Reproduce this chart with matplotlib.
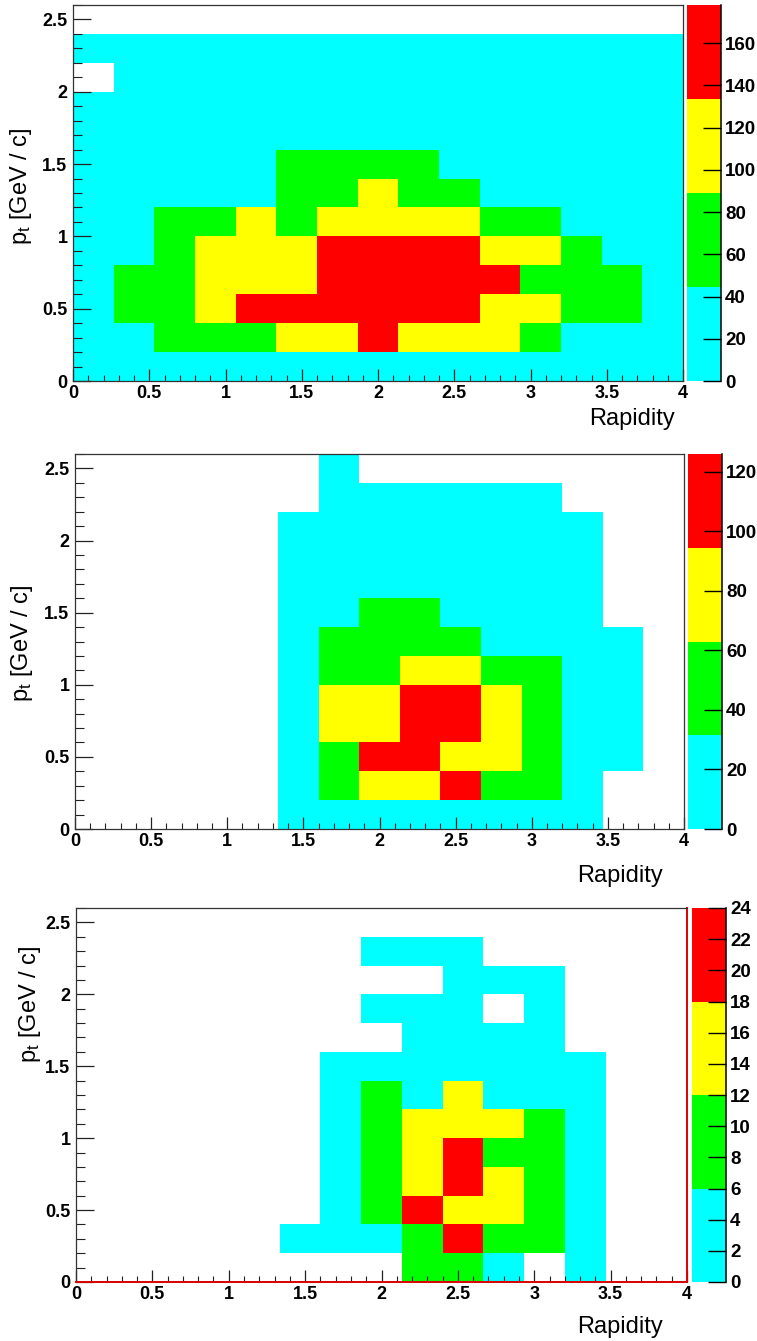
import numpy as np
import matplotlib
matplotlib.use("Agg")
import matplotlib.pyplot as plt
from matplotlib.colors import ListedColormap, BoundaryNorm

plt.rcParams['font.family'] = ['Liberation Sans', 'DejaVu Sans']
plt.rcParams['mathtext.fontset'] = 'custom'
plt.rcParams['mathtext.rm'] = 'Liberation Sans'
plt.rcParams['mathtext.it'] = 'Liberation Sans:italic'

# ---------------- data ----------------
rapidity_range = (0.0, 4.0)
n_rapidity_bins = 15
pt_range = (0.0, 2.6)
n_pt_bins = 13

palette = ['#00ffff', '#00ff00', '#ffff00', '#ff0000']  # 4 contour levels

x_ticks = [0, 0.5, 1, 1.5, 2, 2.5, 3, 3.5, 4]
y_ticks = [0, 0.5, 1, 1.5, 2, 2.5]

# counts per bin, rows listed from top (pt 2.4-2.6) to bottom (pt 0-0.2)
counts_top = [
    [0, 0, 0, 0, 0, 0, 0, 0, 0, 0, 0, 0, 0, 0, 0],
    [6, 8, 9, 11, 12, 14, 15, 16, 15, 13, 12, 10, 8, 7, 5],
    [0, 9, 11, 13, 15, 17, 19, 20, 19, 17, 15, 13, 10, 8, 6],
    [8, 11, 14, 17, 20, 23, 26, 27, 26, 23, 20, 16, 13, 10, 7],
    [10, 14, 18, 22, 27, 32, 36, 38, 36, 32, 27, 21, 16, 12, 9],
    [12, 17, 23, 29, 37, 46, 52, 55, 50, 43, 35, 27, 20, 15, 11],
    [14, 21, 29, 38, 43, 57, 74, 92, 84, 68, 42, 33, 25, 18, 13],
    [17, 26, 50, 62, 90, 80, 104, 118, 115, 97, 76, 58, 40, 23, 15],
    [19, 32, 60, 94, 108, 122, 142, 158, 152, 138, 112, 96, 64, 30, 17],
    [21, 48, 70, 101, 118, 130, 150, 170, 178, 160, 136, 85, 72, 50, 20],
    [20, 46, 68, 96, 136, 146, 162, 172, 168, 148, 128, 102, 70, 48, 19],
    [16, 30, 55, 72, 82, 95, 118, 140, 124, 110, 92, 68, 40, 27, 14],
    [9, 14, 20, 26, 31, 36, 40, 42, 40, 36, 31, 25, 19, 14, 9],
]

counts_mid = [
    [0, 0, 0, 0, 0, 0, 3, 0, 0, 0, 0, 0, 0, 0, 0],
    [0, 0, 0, 0, 0, 0, 4, 5, 6, 5, 4, 3, 0, 0, 0],
    [0, 0, 0, 0, 0, 4, 7, 9, 10, 9, 8, 6, 3, 0, 0],
    [0, 0, 0, 0, 0, 6, 10, 14, 16, 15, 12, 9, 5, 0, 0],
    [0, 0, 0, 0, 0, 8, 14, 22, 26, 24, 18, 12, 6, 0, 0],
    [0, 0, 0, 0, 0, 11, 24, 38, 36, 30, 22, 14, 8, 0, 0],
    [0, 0, 0, 0, 0, 14, 35, 48, 52, 40, 29, 20, 12, 6, 0],
    [0, 0, 0, 0, 0, 17, 45, 58, 70, 75, 55, 40, 24, 9, 0],
    [0, 0, 0, 0, 0, 19, 66, 80, 100, 108, 74, 50, 27, 10, 0],
    [0, 0, 0, 0, 0, 21, 70, 88, 112, 118, 80, 54, 29, 11, 0],
    [0, 0, 0, 0, 0, 20, 52, 104, 126, 90, 68, 46, 26, 9, 0],
    [0, 0, 0, 0, 0, 15, 40, 72, 86, 98, 60, 38, 18, 0, 0],
    [0, 0, 0, 0, 0, 6, 10, 14, 16, 15, 12, 8, 4, 0, 0],
]

counts_bot = [
    [0, 0, 0, 0, 0, 0, 0, 0, 0, 0, 0, 0, 0, 0, 0],
    [0, 0, 0, 0, 0, 0, 0, 1, 2, 1, 0, 0, 0, 0, 0],
    [0, 0, 0, 0, 0, 0, 0, 0, 0, 1, 1, 1, 0, 0, 0],
    [0, 0, 0, 0, 0, 0, 0, 1, 2, 1, 0, 1, 0, 0, 0],
    [0, 0, 0, 0, 0, 0, 0, 0, 2, 3, 2, 1, 0, 0, 0],
    [0, 0, 0, 0, 0, 0, 1, 3, 4, 5, 4, 3, 1, 0, 0],
    [0, 0, 0, 0, 0, 0, 2, 7, 5, 13, 5, 4, 2, 0, 0],
    [0, 0, 0, 0, 0, 0, 3, 9, 14, 16, 13, 10, 3, 0, 0],
    [0, 0, 0, 0, 0, 0, 4, 10, 15, 20, 11, 9, 3, 0, 0],
    [0, 0, 0, 0, 0, 0, 4, 11, 17, 24, 14, 10, 3, 0, 0],
    [0, 0, 0, 0, 0, 0, 5, 10, 19, 16, 13, 8, 2, 0, 0],
    [0, 0, 0, 0, 0, 2, 4, 5, 10, 21, 11, 7, 2, 0, 0],
    [0, 0, 0, 0, 0, 0, 0, 0, 8, 9, 3, 0, 1, 0, 0],
]

cbar_ticks_top = [0, 20, 40, 60, 80, 100, 120, 140, 160]
cbar_ticks_mid = [0, 20, 40, 60, 80, 100, 120]
cbar_ticks_bot = [0, 2, 4, 6, 8, 10, 12, 14, 16, 18, 20, 22, 24]

x_label = 'Rapidity'
y_label = r'$\mathrm{p_{t}}$ [GeV / c]'

# ---------------- layout (pixels) ----------------
W, H = 757, 1341
fig = plt.figure(figsize=(W / 100, H / 100), dpi=100)
fig.patch.set_facecolor('white')


def rect(x0, y0, x1, y1):
    return [x0 / W, 1 - y1 / H, (x1 - x0) / W, (y1 - y0) / H]


panels = [
    dict(counts=counts_top, ax=(73, 5, 683, 381), cax=(687, 5, 721, 381),
         cticks=cbar_ticks_top, ylab=(21, 186), xlab=(675, 425), red=False),
    dict(counts=counts_mid, ax=(75, 454, 684, 829), cax=(688, 454, 722, 829),
         cticks=cbar_ticks_mid, ylab=(22, 643), xlab=(663, 882), red=False),
    dict(counts=counts_bot, ax=(76, 908, 687, 1282), cax=(692, 908, 726, 1282),
         cticks=cbar_ticks_bot, ylab=(30, 1004), xlab=(663, 1333), red=True),
]

x_edges = np.linspace(rapidity_range[0], rapidity_range[1], n_rapidity_bins + 1)
y_edges = np.linspace(pt_range[0], pt_range[1], n_pt_bins + 1)
cmap = ListedColormap(palette)


def fmt(v):
    return '%g' % v


for p in panels:
    counts = np.flipud(np.array(p['counts'], dtype=float))
    zmax = counts.max()
    levels = np.linspace(0, zmax, len(palette) + 1)
    norm = BoundaryNorm(levels, len(palette))
    data = np.ma.masked_less_equal(counts, 0)

    ax = fig.add_axes(rect(*p['ax']))
    ax.set_facecolor('white')
    mesh = ax.pcolormesh(x_edges, y_edges, data, cmap=cmap, norm=norm)
    ax.set_xlim(*rapidity_range)
    ax.set_ylim(*pt_range)

    ax.set_xticks(x_ticks, [fmt(v) for v in x_ticks], fontweight='bold', fontsize=13)
    ax.set_yticks(y_ticks, [fmt(v) for v in y_ticks], fontweight='bold', fontsize=13)
    ax.set_xticks(np.arange(0, 4.0001, 0.1), minor=True)
    ax.set_yticks(np.arange(0, 2.6001, 0.1), minor=True)
    ax.tick_params(which='both', direction='in', top=False, right=False, color='#222222')
    ax.tick_params(axis='x', which='major', length=8.5, width=0.9, pad=3)
    ax.tick_params(axis='x', which='minor', length=4.3, width=0.8)
    ax.tick_params(axis='y', which='major', length=13, width=0.9, pad=4)
    ax.tick_params(axis='y', which='minor', length=6.5, width=0.8)
    for s in ax.spines.values():
        s.set_linewidth(0.9)
        s.set_color('#333333')
    if p['red']:
        ax.spines['bottom'].set_color('#dd0000')
        ax.spines['bottom'].set_linewidth(1.4)
        ax.spines['right'].set_color('#dd0000')
        ax.spines['right'].set_linewidth(1.4)

    cax = fig.add_axes(rect(*p['cax']))
    cb = fig.colorbar(mesh, cax=cax, spacing='proportional')
    cb.outline.set_visible(False)
    cb.set_ticks(p['cticks'], labels=[fmt(v) for v in p['cticks']],
                 fontweight='bold', fontsize=13.5)
    cb.minorticks_off()
    cax.tick_params(direction='in', length=13, width=1.0, pad=3, color='black')
    cax.plot([1, 1], [0, 1], transform=cax.transAxes, color='black', lw=1.1,
             clip_on=False)

    lx, ly = p['ylab']
    fig.text(lx / W, 1 - ly / H, y_label, rotation=90, ha='center', va='center',
             fontsize=17)
    tx, ty = p['xlab']
    fig.text(tx / W, 1 - ty / H, x_label, ha='right', va='baseline', fontsize=17)

fig.savefig('out.png', dpi=100)
